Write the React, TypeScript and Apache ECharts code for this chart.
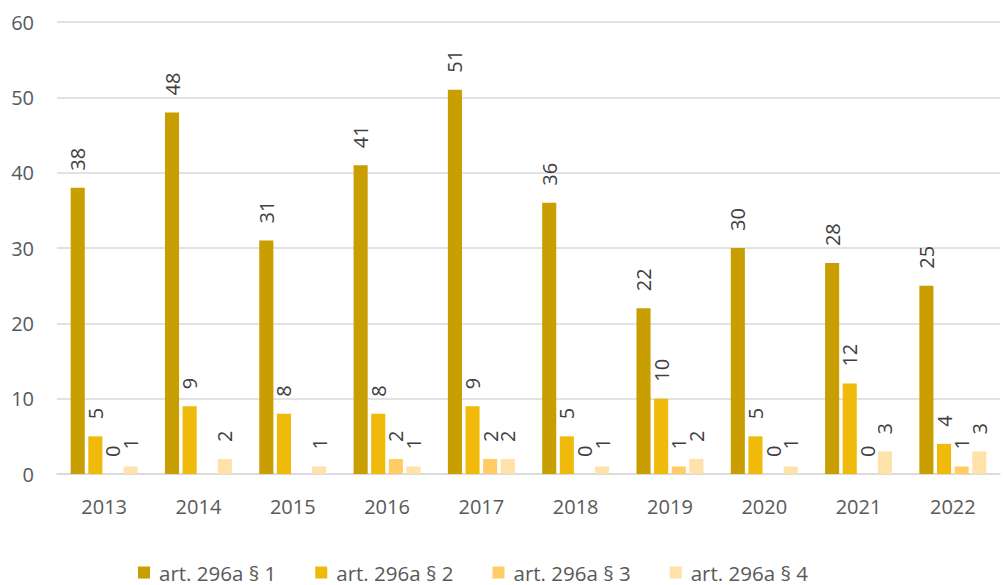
import React, { useEffect, useRef } from "react";
import * as echarts from "echarts";

const categories = ["2013", "2014", "2015", "2016", "2017", "2018", "2019", "2020", "2021", "2022"];
const seriesNames = ["art. 296a § 1", "art. 296a § 2", "art. 296a § 3", "art. 296a § 4"];
const s1 = [38, 48, 31, 41, 51, 36, 22, 30, 28, 25];
const s2 = [5, 9, 8, 8, 9, 5, 10, 5, 12, 4];
const s3 = [0, null, null, 2, 2, 0, 1, 0, 0, 1];
const s4 = [1, 2, 1, 1, 2, 1, 2, 1, 3, 3];
const colors = ["#C89E00", "#F0BA0A", "#FFCC66", "#FFE1AA"];

export default function App() {
  const ref = useRef<HTMLDivElement>(null);
  useEffect(() => {
    if (!ref.current) return;
    const chart = echarts.init(ref.current, null, { renderer: "svg" });
    const font = "Open Sans, Noto Sans, sans-serif";
    const data = [s1, s2, s3, s4];
    chart.setOption({
      animation: false,
      textStyle: { fontFamily: font },
      grid: { left: 57, right: 4, top: 22, bottom: 111, containLabel: false },
      legend: {
        bottom: -3,
        left: 133,
        itemWidth: 12,
        itemHeight: 12,
        itemGap: 39,
        icon: "rect",
        textStyle: { fontSize: 20.5, color: "#595959", fontFamily: font, padding: [0, 0, 0, 4] },
        data: seriesNames,
      },
      xAxis: {
        type: "category",
        data: categories,
        axisLine: { lineStyle: { color: "#D9D9D9", width: 1.5 } },
        axisTick: { show: false },
        axisLabel: { fontSize: 20, color: "#595959", margin: 22 },
      },
      yAxis: {
        type: "value",
        min: 0,
        max: 60,
        interval: 10,
        axisLine: { show: false },
        axisTick: { show: false },
        splitLine: { lineStyle: { color: "#D9D9D9", width: 1.5 } },
        axisLabel: { fontSize: 20, color: "#595959", margin: 23 },
      },
      series: seriesNames.map((name, i) => ({
        name,
        type: "bar",
        data: data[i],
        barCategoryGap: "29%",
        barGap: "25%",
        itemStyle: { color: colors[i] },
        label: {
          show: true,
          position: "top",
          rotate: 90,
          align: "left",
          verticalAlign: "middle",
          distance: 17,
          fontSize: 20,
          color: "#404040",
          fontFamily: font,
        },
      })),
    });
    return () => chart.dispose();
  }, []);
  return (
    <div
      ref={ref}
      style={{ position: "fixed", left: 0, top: 0, width: 1004, height: 585, background: "#fff" }}
    />
  );
}
